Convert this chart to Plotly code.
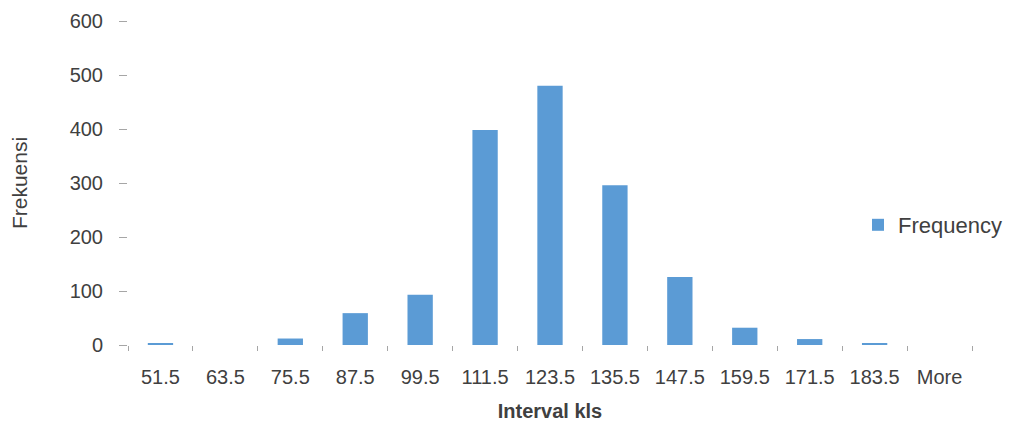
import plotly.graph_objects as go

# Frequency distribution of class intervals
intervals = ["51.5", "63.5", "75.5", "87.5", "99.5", "111.5", "123.5",
             "135.5", "147.5", "159.5", "171.5", "183.5", "More"]
frequency = [3, 0, 12, 59, 93, 398, 480, 296, 126, 32, 11, 3, 0]

W, H = 1014, 428
L, R, T, B = 128, 42, 21, 83
bar_color = "#5B9BD5"
text_color = "#404040"
font_family = "Liberation Sans, Arial, sans-serif"

fig = go.Figure()
fig.add_trace(go.Bar(
    x=intervals,
    y=frequency,
    name="Frequency",
    marker=dict(color=bar_color, line=dict(width=0)),
    showlegend=True,
))

plot_w = W - L - R
fig.update_layout(
    width=W,
    height=H,
    margin=dict(l=L, r=R, t=T, b=B, pad=0, autoexpand=False),
    paper_bgcolor="white",
    plot_bgcolor="white",
    bargap=0.61,
    font=dict(family=font_family, size=20, color=text_color),
    showlegend=True,
    legend=dict(
        x=(858 - L) / plot_w,
        y=(H - B - 225) / (H - T - B),
        xanchor="left",
        yanchor="middle",
        bgcolor="rgba(0,0,0,0)",
        font=dict(size=22, color=text_color),
    ),
    xaxis=dict(
        type="category",
        automargin=False,
        showgrid=False,
        showline=False,
        zeroline=False,
        ticks="outside",
        tickson="boundaries",
        ticklen=5,
        tickcolor="#A6A6A6",
        tickfont=dict(size=20, color=text_color),
        ticklabelstandoff=18,
        title=dict(text="<b>Interval kls</b>", font=dict(size=20, color=text_color), standoff=16),
    ),
    yaxis=dict(
        range=[0, 600],
        dtick=100,
        automargin=False,
        showgrid=False,
        showline=False,
        zeroline=False,
        ticks="outside",
        ticklen=8,
        tickcolor="#A6A6A6",
        tickfont=dict(size=20, color=text_color),
        ticklabelstandoff=12,
        title=dict(text="Frekuensi", font=dict(size=21, color=text_color), standoff=36),
    ),
)

fig.write_html("out.html")
